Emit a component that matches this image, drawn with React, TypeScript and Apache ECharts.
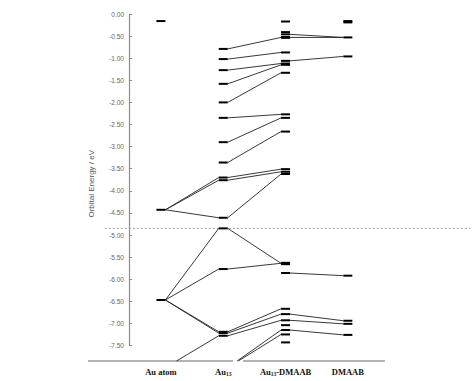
import React, { useEffect, useRef } from "react";
import * as echarts from "echarts";

// ---------- data ----------
const categories = ["Au atom", "Au13", "Au13-DMAAB", "DMAAB"];

const auAtomLevels = [-0.16, -4.43, -6.47, -8.0];
const au13Levels = [
  -0.79, -1.02, -1.27, -1.58, -2.0, -2.35, -2.9, -3.36, -3.7, -3.76, -4.61,
  -4.85, -5.77, -7.19, -7.22, -7.28, -8.0,
];
const au13DmaabLevels = [
  -0.17, -0.41, -0.46, -0.52, -0.54, -0.87, -1.06, -1.12, -1.15, -1.33, -2.27,
  -2.35, -2.66, -3.51, -3.57, -3.62, -5.63, -5.66, -5.86, -6.67, -6.79, -6.93,
  -7.04, -7.15, -7.25, -7.43,
];
const dmaabLevels = [-0.16, -0.19, -0.53, -0.96, -5.92, -6.94, -7.01, -7.26];

// correlation lines: [energy in left column, energy in right column]
const atomToAu13 = [
  [-4.43, -3.7],
  [-4.43, -3.76],
  [-4.43, -4.61],
  [-6.47, -4.85],
  [-6.47, -5.77],
  [-6.47, -7.19],
  [-6.47, -7.22],
  [-8.0, -7.28],
];
const au13ToComplex = [
  [-0.79, -0.53],
  [-1.02, -0.87],
  [-1.27, -1.12],
  [-1.58, -1.15],
  [-2.0, -1.33],
  [-2.35, -2.27],
  [-2.9, -2.35],
  [-3.36, -2.66],
  [-3.7, -3.51],
  [-3.76, -3.57],
  [-4.61, -3.62],
  [-4.85, -5.64],
  [-5.77, -5.64],
  [-7.19, -6.67],
  [-7.22, -6.79],
  [-7.28, -6.93],
  [-8.0, -7.15],
  [-8.0, -7.25],
];
const complexToDmaab = [
  [-0.46, -0.53],
  [-0.53, -0.53],
  [-1.06, -0.96],
  [-5.86, -5.92],
  [-6.79, -6.94],
  [-6.93, -7.01],
  [-7.15, -7.26],
];

const fermiLevel = -4.85;

// ---------- layout constants ----------
const Y_MIN = -7.5;
const Y_MAX = 0;
const Y_INTERVAL = 0.5;
const Y_FLOOR = -7.85; // level of the bottom base line
const X_MIN = -1.17;
const X_MAX = 4.96;
const FERMI_X = [-0.9, 4.96];
const BASE_SEGMENTS = [
  [-1.17, 1.156],
  [1.316, 3.595],
];
const HALF_BAR = 4.5;

const levelColumns = [auAtomLevels, au13Levels, au13DmaabLevels, dmaabLevels];
const linkColumns = [atomToAu13, au13ToComplex, complexToDmaab];

export default function App() {
  const ref = useRef<HTMLDivElement>(null);

  useEffect(() => {
    document.body.style.margin = "0";
    if (!ref.current) return;
    const chart = echarts.init(ref.current, undefined, { renderer: "svg" });

    const levelData: number[][] = [];
    levelColumns.forEach((col, i) => col.forEach((e) => levelData.push([i, e])));
    const linkData: number[][] = [];
    linkColumns.forEach((links, i) =>
      links.forEach(([a, b]) => linkData.push([i, a, i + 1, b]))
    );

    const serif = "'Liberation Serif', 'Times New Roman', serif";
    const sans = "'Liberation Sans', Arial, sans-serif";

    const labelFor = (v: number) => {
      const idx = Math.round(v);
      const c = categories[idx] ?? "";
      return c.replace("13", "{sub|13}");
    };

    const plainSegment =
      (color: string, width: number, dash?: number[]) =>
      (params: any, api: any) => {
        const p1 = api.coord([api.value(0), api.value(1)]);
        const p2 = api.coord([api.value(2), api.value(3)]);
        return {
          type: "line",
          shape: { x1: p1[0], y1: p1[1], x2: p2[0], y2: p2[1] },
          style: dash
            ? { stroke: color, lineWidth: width, lineDash: dash }
            : { stroke: color, lineWidth: width },
        };
      };

    // correlation line between bar ends, cut at the base line
    const linkRenderer = (params: any, api: any) => {
      const p1 = api.coord([api.value(0), api.value(1)]);
      const p2 = api.coord([api.value(2), api.value(3)]);
      const floorY = api.coord([0, Y_FLOOR])[1];
      let x1 = p1[0] + HALF_BAR;
      let y1 = p1[1];
      let x2 = p2[0] - HALF_BAR;
      let y2 = p2[1];
      if (y1 > floorY && y2 > floorY) return null;
      if (y1 > floorY) {
        const t = (floorY - y1) / (y2 - y1);
        x1 = x1 + t * (x2 - x1);
        y1 = floorY;
      }
      if (y2 > floorY) {
        const t = (floorY - y2) / (y1 - y2);
        x2 = x2 + t * (x1 - x2);
        y2 = floorY;
      }
      return {
        type: "line",
        shape: { x1, y1, x2, y2 },
        style: { stroke: "#222", lineWidth: 0.9 },
      };
    };

    const option: any = {
      animation: false,
      grid: { left: 88, right: 4, top: 14, bottom: 35.5, containLabel: false },
      xAxis: {
        type: "value",
        min: X_MIN,
        max: X_MAX,
        axisLine: { show: false, onZero: false },
        axisTick: { show: false },
        splitLine: { show: false },
        axisLabel: {
          customValues: [0, 1, 2, 3],
          formatter: labelFor,
          margin: 21.5,
          fontFamily: serif,
          fontWeight: "bold",
          fontSize: 8.5,
          color: "#111",
          rich: {
            sub: {
              fontFamily: serif,
              fontWeight: "bold",
              fontSize: 5.5,
              color: "#111",
              padding: [4, 0, 0, 0],
            },
          },
        },
      },
      yAxis: {
        type: "value",
        min: Y_MIN,
        max: Y_MAX,
        interval: Y_INTERVAL,
        offset: -41,
        name: "Orbital Energy / eV",
        nameLocation: "middle",
        nameGap: 34,
        nameTextStyle: {
          fontFamily: sans,
          fontSize: 8,
          color: "#555",
          padding: [0, 8, 0, 0],
        },
        axisLine: {
          show: true,
          onZero: false,
          lineStyle: { color: "#8c8c8c", width: 1.2 },
        },
        axisTick: {
          show: true,
          inside: true,
          length: 3,
          lineStyle: { color: "#888" },
        },
        splitLine: { show: false },
        axisLabel: {
          formatter: (v: number) => (Math.abs(v) < 1e-9 ? "0.00" : v.toFixed(2)),
          fontFamily: sans,
          fontSize: 6.5,
          color: "#666",
          margin: 5,
        },
      },
      series: [
        {
          type: "custom",
          clip: false,
          data: [[FERMI_X[0], fermiLevel, FERMI_X[1], fermiLevel]],
          encode: { x: [0, 2], y: [1, 3] },
          renderItem: plainSegment("#9a9a9a", 1, [2, 2]),
        },
        {
          type: "custom",
          clip: false,
          data: BASE_SEGMENTS.map((s) => [s[0], Y_FLOOR, s[1], Y_FLOOR]),
          encode: { x: [0, 2], y: [1, 3] },
          renderItem: plainSegment("#9a9a9a", 1.5),
        },
        {
          type: "custom",
          clip: false,
          data: linkData,
          encode: { x: [0, 2], y: [1, 3] },
          renderItem: linkRenderer,
        },
        {
          type: "custom",
          clip: false,
          data: levelData,
          encode: { x: 0, y: 1 },
          renderItem: (params: any, api: any) => {
            if (api.value(1) < Y_FLOOR) return null;
            const p = api.coord([api.value(0), api.value(1)]);
            return {
              type: "line",
              shape: {
                x1: p[0] - HALF_BAR,
                y1: p[1],
                x2: p[0] + HALF_BAR,
                y2: p[1],
              },
              style: { stroke: "#000", lineWidth: 2 },
            };
          },
        },
      ],
    };

    chart.setOption(option);
    return () => chart.dispose();
  }, []);

  return <div ref={ref} style={{ width: 474, height: 381 }} />;
}
